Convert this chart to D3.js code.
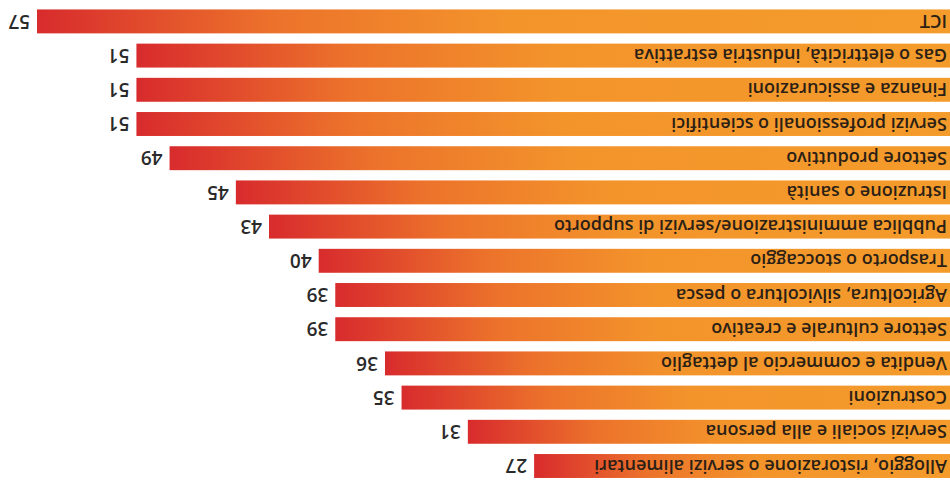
<!DOCTYPE html>
<html>
<head>
<meta charset="utf-8">
<script src="https://cdn.jsdelivr.net/npm/d3@7"></script>
<style>
  html, body { margin: 0; padding: 0; background: #ffffff; }
  svg { display: block; }
</style>
</head>
<body>
<svg id="chart" width="950" height="485"></svg>
<script>
// Sectors, listed from top to bottom of the upright chart
const categories = [
  "Alloggio, ristorazione o servizi alimentari",
  "Servizi sociali e alla persona",
  "Costruzioni",
  "Vendita e commercio al dettaglio",
  "Settore culturale e creativo",
  "Agricoltura, silvicoltura o pesca",
  "Trasporto o stoccaggio",
  "Pubblica amministrazione/servizi di supporto",
  "Istruzione o sanità",
  "Settore produttivo",
  "Servizi professionali o scientifici",
  "Finanza e assicurazioni",
  "Gas o elettricità, industria estrattiva",
  "ICT"
];
const values = [27, 31, 35, 36, 39, 39, 40, 43, 45, 49, 51, 51, 51, 57];

const W = 950, H = 485;
const svg = d3.select("#chart");

// Orange-to-red gradient along each bar
const defs = svg.append("defs");
const grad = defs.append("linearGradient")
  .attr("id", "barGrad")
  .attr("x1", "0%").attr("x2", "100%")
  .attr("y1", "0%").attr("y2", "0%");
grad.append("stop").attr("offset", "0%").attr("stop-color", "#f49c2b");
grad.append("stop").attr("offset", "50%").attr("stop-color", "#f3942b");
grad.append("stop").attr("offset", "75%").attr("stop-color", "#ec722b");
grad.append("stop").attr("offset", "100%").attr("stop-color", "#d82b2d");

// The whole chart is drawn upright, then turned half a turn
const g = svg.append("g")
  .attr("transform", `rotate(180, ${W / 2}, ${H / 2})`);

const x = d3.scaleLinear()
  .domain([0, 57])
  .range([-31.5, -31.5 + 16.57 * 57]);

const y = d3.scaleBand()
  .domain(categories)
  .range([1.9, 1.9 + 14 * 34.2])
  .paddingInner(0.3)
  .paddingOuter(0.15);

const rows = g.selectAll("g.row")
  .data(categories.map((c, i) => ({ c, v: values[i] })))
  .join("g")
  .attr("class", "row")
  .attr("transform", d => `translate(0, ${y(d.c)})`);

rows.append("rect")
  .attr("x", x(0))
  .attr("y", 0)
  .attr("width", d => x(d.v) - x(0))
  .attr("height", y.bandwidth())
  .attr("fill", "url(#barGrad)");

rows.append("text")
  .attr("x", 3)
  .attr("y", y.bandwidth() / 2)
  .attr("dy", "0.36em")
  .attr("font-family", "'Open Sans', sans-serif")
  .attr("font-weight", 600)
  .attr("font-size", 18)
  .attr("fill", "#2b1f16")
  .text(d => d.c);

rows.append("text")
  .attr("x", d => x(d.v) + 7)
  .attr("y", y.bandwidth() / 2)
  .attr("dy", "0.36em")
  .attr("font-family", "'Open Sans', sans-serif")
  .attr("font-weight", 600)
  .attr("font-size", 19)
  .attr("fill", "#2a2a2a")
  .text(d => d.v);
</script>
</body>
</html>
